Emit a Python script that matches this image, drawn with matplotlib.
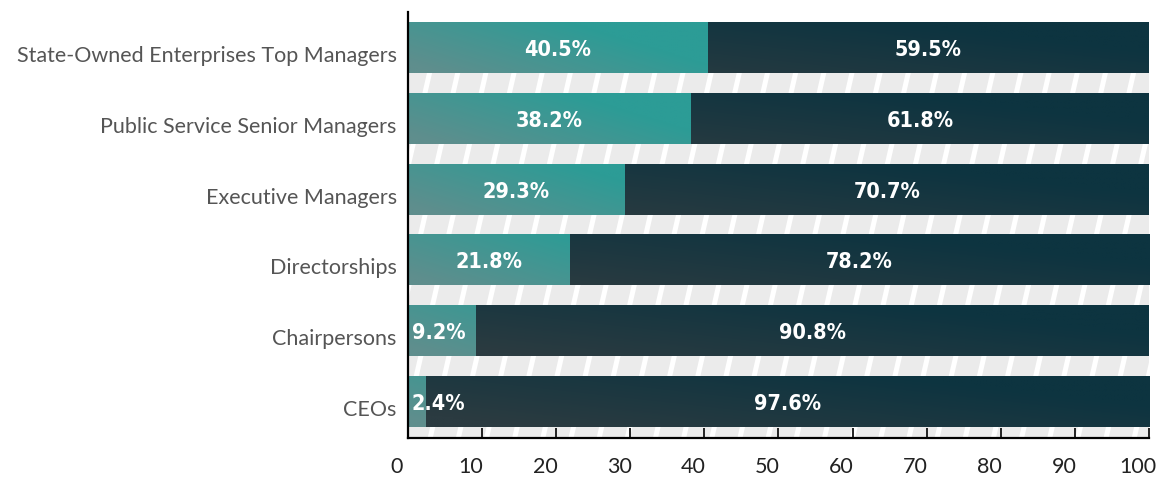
import matplotlib.pyplot as plt
import numpy as np
from matplotlib.colors import LinearSegmentedColormap
from matplotlib.transforms import ScaledTranslation

# share of women vs men in each leadership group (%)
categories = ["CEOs", "Chairpersons", "Directorships", "Executive Managers",
              "Public Service Senior Managers", "State-Owned Enterprises Top Managers"]
women = [2.4, 9.2, 21.8, 29.3, 38.2, 40.5]
men = [97.6, 90.8, 78.2, 70.7, 61.8, 59.5]
xticks = [0, 10, 20, 30, 40, 50, 60, 70, 80, 90, 100]

teal_cmap = LinearSegmentedColormap.from_list("teal", ["#5f8e8d", "#2c9c96"])
dark_cmap = LinearSegmentedColormap.from_list("dark", ["#2b3b41", "#0d3440"])
value_font = dict(fontsize=15.5, fontweight="bold", fontstretch="condensed",
                  family=["Liberation Sans Narrow", "DejaVu Sans"],
                  color="white", va="center", zorder=3)

fig = plt.figure(figsize=(11.57, 4.79), dpi=100)
ax = fig.add_axes([0.3526, 0.0856, 0.6405, 0.8894])

bar_h = 0.707
ypos = np.arange(len(categories))
ax.set_xlim(0, 100)
ax.set_ylim(-0.51, 5.51)

# light grey stripes with slanted white dashes behind the bars
top_edge = ypos[-1] + bar_h / 2
ax.add_patch(plt.Rectangle((0, -0.51), 100, top_edge + 0.51, color="#ebebeb",
                           lw=0, zorder=0))
for xs in np.arange(-16, 104, 3.8):
    ax.plot([xs, xs + 3.3 * (top_edge + 0.51) / 6.02 * 4], [-0.51, top_edge],
            color="white", lw=3.6, solid_capstyle="butt", zorder=0.5)

def gradient_segment(x0, x1, y, cmap, scale, shift):
    n, m = 200, 40
    gx = np.linspace(x0, x1, n)
    gy = np.linspace(0, 1, m)
    X, Y = np.meshgrid(gx, gy)
    t = np.clip(X / scale + 0.55 * Y - shift, 0, 1)
    ax.imshow(t, extent=[x0, x1, y - bar_h / 2, y + bar_h / 2], origin="lower",
              cmap=cmap, vmin=0, vmax=1, aspect="auto", interpolation="bilinear",
              zorder=2)

for y, w, m in zip(ypos, women, men):
    gradient_segment(0, w, y, teal_cmap, 40, 0.1)
    gradient_segment(w, w + m, y, dark_cmap, 110, 0.15)

    if w < 10:
        ax.text(0.5, y - 0.03, f"{w}%", ha="left", **value_font)
    else:
        ax.text(w / 2, y - 0.03, f"{w}%", ha="center", **value_font)
    ax.text(w + m / 2, y - 0.03, f"{m}%", ha="center", **value_font)

# axes styling
ax.set_yticks(ypos)
ax.set_yticklabels(categories, fontsize=15.5, color="#555555", family="Lato")
ax.tick_params(axis="y", length=0, pad=8)
yoff = ScaledTranslation(0, -6 / 100, fig.dpi_scale_trans)
for lbl in ax.get_yticklabels():
    lbl.set_transform(lbl.get_transform() + yoff)

ax.set_xticks(xticks)
ax.set_xticklabels([str(v) for v in xticks], fontsize=15.5, color="#222222",
                   family="Lato")
ax.tick_params(axis="x", direction="in", length=7.5, width=1.4, color="#222222",
               pad=14)
xoff = ScaledTranslation(-11 / 100, 0, fig.dpi_scale_trans)
for lbl in ax.get_xticklabels():
    lbl.set_transform(lbl.get_transform() + xoff)

for side in ["top", "right"]:
    ax.spines[side].set_visible(False)
ax.spines["left"].set_linewidth(1.6)
ax.spines["bottom"].set_linewidth(1.6)
ax.spines["left"].set_zorder(4)
ax.spines["bottom"].set_zorder(4)

fig.savefig("out.png", dpi=100)
